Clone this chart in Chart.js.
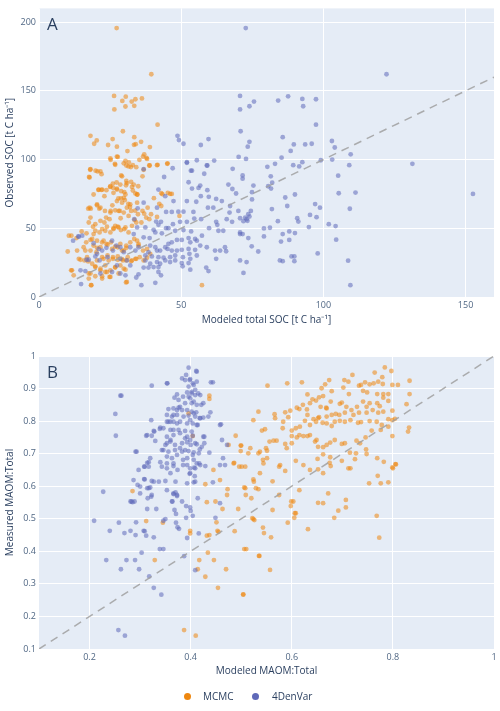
<!DOCTYPE html>
<html>
<head>
<meta charset="utf-8">
<script src="https://cdn.jsdelivr.net/npm/chart.js@4.4.1/dist/chart.umd.min.js"></script>
<style>
  body { margin: 0; background: #fff; font-family: "Open Sans", sans-serif; }
  #wrap { position: relative; width: 500px; height: 711px; }
  #socChart { position: absolute; left: 0; top: 0; }
  #maomChart { position: absolute; left: 0; top: 330px; }
  .dot { position: absolute; width: 7px; height: 7px; border-radius: 50%; top: 693px; }
  .lab { position: absolute; top: 689px; font-size: 10px; line-height: 14px; color: #2a3f5f; }
</style>
</head>
<body>
<div id="wrap">
  <canvas id="socChart" width="500" height="330"></canvas>
  <canvas id="maomChart" width="500" height="381"></canvas>
  <span class="dot" style="left:184px;background:#ee870f"></span><span class="lab" style="left:203px">MCMC</span>
  <span class="dot" style="left:252px;background:#5f69b9"></span><span class="lab" style="left:272px">4DenVar</span>
</div>
<script>
// series names
const seriesNames = ['MCMC', '4DenVar'];

// panel A: [modeled total SOC, observed SOC] in t C/ha
const mcmcSOC = [
  [18.1,117.3],[19.4,111.5],[20.3,113.9],[24.3,110.6],[25.9,114.9],[27.4,109.4],[29.5,120.6],[33.5,116.3],[33.4,110.7],[34.0,111.2],
  [35.9,112.9],[39.0,109.1],[41.7,125.4],[26.4,146.3],[30.5,145.8],[29.3,142.7],[32.6,142.2],[33.9,143.9],[36.2,144.5],[26.5,136.5],
  [30.4,138.6],[33.5,139.1],[27.3,195.7],[39.5,162.1],[25.2,99.8],[27.7,101.9],[26.7,96.9],[30.4,99.1],[31.6,98.0],[31.1,106.2],
  [37.0,103.8],[37.8,101.2],[35.3,99.8],[38.9,95.7],[41.5,95.9],[45.1,96.9],[18.0,92.6],[19.9,91.9],[30.7,95.7],[32.3,94.6],
  [17.6,87.3],[20.6,91.4],[22.0,89.4],[20.9,77.9],[22.0,77.9],[23.7,77.7],[25.0,80.1],[26.1,79.4],[27.4,78.9],[26.0,82.5],
  [27.3,83.3],[28.9,77.0],[30.0,76.3],[30.6,81.3],[32.7,80.1],[33.0,77.5],[33.9,75.3],[34.6,74.6],[34.9,80.6],[28.9,88.5],
  [30.7,84.4],[32.4,83.7],[34.2,94.5],[36.4,87.8],[33.0,96.0],[40.4,71.9],[42.3,67.8],[43.0,75.5],[43.4,74.8],[46.1,75.0],
  [17.3,64.3],[18.2,64.3],[20.4,66.7],[21.2,64.3],[23.0,73.4],[25.8,66.7],[27.9,71.7],[23.2,62.6],[23.6,57.8],[25.2,62.6],
  [28.0,62.6],[29.8,72.2],[29.2,68.6],[30.2,70.5],[31.4,67.8],[32.0,65.5],[32.4,62.6],[33.8,62.8],[34.5,68.6],[34.8,60.2],
  [36.4,62.6],[37.0,60.6],[38.2,65.0],[39.4,60.2],[28.7,57.3],[31.5,59.0],[33.6,56.1],[36.0,54.2],[37.7,57.8],[38.8,56.6],
  [24.8,56.6],[21.6,55.4],[19.8,53.0],[26.8,51.8],[28.0,50.6],[30.0,49.4],[26.2,49.4],[25.1,47.0],[23.3,48.2],[21.3,47.0],
  [19.2,45.8],[16.7,46.3],[15.0,47.7],[10.5,44.6],[11.4,44.6],[13.2,42.9],[16.6,39.8],[18.1,41.5],[19.2,37.4],[20.4,35.8],
  [22.2,39.8],[23.7,38.6],[25.3,39.8],[26.8,36.7],[28.6,38.6],[29.8,33.8],[30.7,35.8],[32.1,39.8],[34.5,41.0],[35.0,37.4],
  [36.6,33.8],[38.0,35.0],[39.1,31.4],[13.4,33.8],[14.6,27.1],[16.0,26.6],[17.3,25.9],[18.7,24.2],[20.4,26.6],[22.7,27.8],
  [24.5,26.6],[26.0,29.0],[27.7,27.1],[29.2,27.6],[30.7,26.6],[32.4,26.1],[33.9,27.8],[35.4,29.0],[36.8,26.6],[38.0,28.6],
  [11.6,19.4],[12.2,15.8],[17.5,17.1],[19.8,22.3],[21.6,19.4],[23.9,18.2],[22.2,15.1],[24.8,14.6],[26.8,21.8],[28.0,17.1],
  [29.8,20.6],[17.5,13.4],[18.4,8.6],[30.6,10.6],[57.3,8.6],[49.4,59.0],[45.3,75.8],[46.7,75.0],[45.2,97.3],[43.0,66.2],
  [41.5,58.3],[41.7,96.2],[38.8,95.7],[36.8,92.6],[36.6,102.2],[38.0,100.5],[10.1,33.1],[11.3,19.4],[14.0,27.8],[16.3,33.8],
  [17.5,54.2],[18.1,57.8],[19.0,51.1],[19.8,48.2],[22.2,49.4],[23.0,54.2],[23.9,51.1],[26.2,50.1],[27.7,51.1],[28.8,48.7],
  [30.4,50.6],[31.5,47.0],[32.7,51.8],[34.2,54.2],[25.1,61.4],[26.8,63.1],[28.4,62.6],[29.8,61.4],[30.9,65.0],[32.1,67.4],
  [27.4,69.8],[28.8,71.7],[30.4,74.6],[19.2,74.6],[20.4,67.4],[21.6,65.0],[17.8,65.0],[28.6,81.8],[27.4,78.2],[29.2,87.8],
  [30.9,82.9],[26.2,75.8],[34.5,74.6],[33.3,81.8],[21.0,78.2],[22.2,78.2],[25.1,80.6],[18.1,93.0],[21.6,91.4],[17.8,87.0],
  [25.1,100.9],[27.4,102.2],[26.8,96.2],[29.8,97.3],[31.5,95.0],[20.4,41.0],[18.7,42.2],[22.7,41.0],[24.1,38.1],[25.7,35.0],
  [27.7,36.2],[29.2,33.8],[30.7,37.4],[33.5,42.2],[35.0,38.6],[21.6,36.2],[20.2,32.6],[18.1,33.8],[15.7,36.2],[16.9,29.0],
  [22.2,29.0],[24.1,30.2],[26.0,27.8],[27.7,29.5],[29.5,26.6],[31.2,29.0],[32.7,26.6],[34.2,27.8],[19.8,21.8],[21.6,20.6],
  [23.3,23.0],[25.1,19.4],[26.8,21.4],[28.6,23.0],[30.4,19.9],[18.1,17.1],[19.8,15.1],[22.2,13.4],[25.1,14.6],[23.3,18.2],
  [18.3,8.6],[30.9,11.0]
];
const denvarSOC = [
  [48.7,117.3],[49.2,114.2],[50.8,111.5],[56.9,110.6],[59.6,114.9],[52.0,97.6],[55.5,99.5],[59.0,95.7],[61.6,99.3],[68.1,93.3],
  [70.2,101.9],[72.8,100.5],[72.7,195.7],[70.7,146.3],[70.7,136.5],[70.9,120.6],[73.4,109.4],[74.0,112.9],[74.0,138.8],[36.8,93.0],
  [53.8,91.9],[122.2,162.1],[75.6,142.2],[84.1,142.9],[87.6,146.0],[92.6,144.1],[92.9,138.8],[97.4,143.9],[97.4,125.4],[85.7,116.3],
  [89.6,111.0],[88.5,106.3],[93.6,111.0],[95.9,111.5],[85.3,101.4],[103.0,113.5],[104.0,108.8],[103.1,100.0],[99.1,99.5],[109.6,103.8],
  [109.1,95.9],[131.3,96.9],[83.0,96.9],[80.3,94.7],[89.4,95.9],[91.5,95.0],[92.6,98.1],[105.2,88.3],[71.6,88.5],[71.6,86.1],
  [75.4,81.1],[74.9,76.3],[74.9,71.0],[81.5,87.8],[82.0,83.2],[80.6,80.6],[81.6,78.9],[86.6,72.4],[90.0,74.6],[105.4,75.5],
  [111.3,76.0],[152.6,75.0],[81.9,64.0],[87.3,66.2],[97.1,67.6],[98.8,65.0],[97.6,58.1],[109.3,64.2],[90.8,57.3],[91.2,54.9],
  [95.3,59.7],[84.0,55.2],[71.9,55.2],[73.0,56.6],[74.0,58.5],[74.5,62.6],[70.7,57.3],[101.9,53.0],[104.3,51.6],[94.9,50.9],
  [79.1,49.9],[81.2,50.4],[85.7,45.8],[88.0,47.7],[90.0,46.5],[79.1,44.1],[73.6,42.9],[74.8,36.9],[77.1,33.1],[70.7,45.8],
  [85.1,40.3],[88.0,41.5],[98.0,31.7],[104.5,41.7],[84.7,26.6],[85.7,26.1],[88.8,29.5],[89.8,29.5],[89.8,26.1],[70.7,26.6],
  [71.9,17.5],[108.7,26.4],[109.5,8.6],[44.0,87.3],[52.0,98.1],[59.2,95.7],[53.4,91.9],[58.1,89.7],[52.6,83.5],[53.8,78.9],
  [56.1,79.4],[56.7,81.1],[59.2,77.7],[62.3,71.4],[59.7,72.9],[56.9,73.4],[55.3,69.3],[52.0,69.8],[50.8,62.1],[49.0,62.1],
  [46.7,61.9],[44.7,61.9],[54.3,61.9],[59.4,65.0],[61.3,65.0],[64.3,69.8],[66.6,81.8],[68.0,78.6],[69.3,75.3],[67.2,66.2],
  [67.0,61.4],[67.9,54.7],[66.0,56.6],[62.3,54.7],[59.8,50.1],[57.0,56.6],[54.6,57.1],[52.0,54.7],[49.6,54.7],[47.1,53.0],
  [44.7,50.1],[42.9,54.7],[41.2,54.9],[40.3,48.9],[42.0,52.5],[37.4,50.6],[36.8,43.4],[38.9,42.9],[40.9,47.0],[43.2,46.3],
  [45.5,50.1],[47.9,48.2],[50.8,48.7],[53.5,47.7],[63.1,48.2],[64.8,48.2],[62.7,52.5],[70.7,47.0],[71.6,45.8],[70.1,62.6],
  [73.3,55.4],[72.5,57.8],[73.6,60.2],[39.1,37.4],[40.9,36.2],[42.6,33.8],[44.4,36.2],[45.5,38.6],[46.7,39.8],[48.5,41.5],
  [50.2,41.5],[52.6,42.9],[54.9,42.2],[57.3,44.6],[55.5,41.0],[53.2,39.8],[56.7,37.4],[59.0,36.2],[54.9,34.3],[52.6,35.0],
  [50.2,34.3],[48.5,33.8],[46.7,33.8],[45.2,35.0],[41.5,33.8],[38.5,32.6],[37.4,30.2],[39.7,29.5],[42.0,29.0],[43.8,28.6],
  [46.1,29.0],[47.9,30.2],[52.9,31.4],[50.6,29.0],[53.2,27.8],[55.5,30.2],[61.9,33.8],[63.7,33.8],[65.8,33.3],[62.3,27.8],
  [65.4,36.2],[73.0,25.4],[37.4,26.6],[39.1,24.2],[41.5,25.4],[42.6,24.2],[44.4,26.6],[46.1,25.4],[47.9,26.6],[50.2,24.7],
  [50.5,22.3],[52.6,24.7],[53.2,19.9],[36.8,21.4],[38.5,21.4],[40.3,21.8],[42.0,21.8],[42.0,18.2],[42.9,15.8],[35.0,16.5],
  [34.2,14.2],[36.0,8.6],[40.9,10.3],[58.8,21.4],[59.6,18.9],[12.0,41.0],[14.0,43.9],[15.2,44.6],[16.7,27.1],[17.5,27.1],
  [14.6,19.4],[16.3,18.9],[14.8,9.4],[19.2,39.1],[21.0,35.0],[22.2,33.8],[23.7,35.8],[20.4,31.4],[19.8,29.5],[21.3,26.6],
  [24.1,29.0],[26.0,33.8],[27.2,37.4],[28.6,36.2],[29.8,32.6],[32.1,36.2],[33.9,33.8],[35.0,36.2],[28.6,27.8],[30.9,26.6],
  [27.4,23.0],[32.1,23.0],[28.6,17.1],[30.4,15.8],[25.7,18.2],[21.6,17.1],[33.3,45.8],[34.5,50.6],[33.5,56.6],[34.7,64.5],
  [25.7,41.0],[47.0,93.7],[42.0,78.2],[36.8,68.6],[41.5,65.0],[44.4,73.4],[47.3,69.8],[13.8,44.1]
];

// panel B: [modeled MAOM:total, measured MAOM:total]
const mcmcMAOM = [
  [0.285,0.585],[0.312,0.493],[0.345,0.488],[0.432,0.551],[0.449,0.553],[0.463,0.530],[0.451,0.489],[0.399,0.463],[0.399,0.455],[0.432,0.448],
  [0.437,0.450],[0.453,0.463],[0.455,0.460],[0.487,0.462],[0.494,0.530],[0.509,0.573],[0.520,0.563],[0.472,0.573],[0.522,0.502],[0.526,0.496],
  [0.506,0.407],[0.510,0.407],[0.434,0.396],[0.329,0.373],[0.417,0.373],[0.446,0.373],[0.414,0.345],[0.470,0.345],[0.429,0.322],[0.454,0.288],
  [0.504,0.267],[0.387,0.158],[0.410,0.141],[0.535,0.386],[0.437,0.878],[0.437,0.868],[0.404,0.754],[0.489,0.755],[0.475,0.727],[0.499,0.725],
  [0.499,0.708],[0.514,0.701],[0.485,0.670],[0.496,0.660],[0.508,0.660],[0.445,0.650],[0.458,0.619],[0.473,0.591],[0.429,0.606],[0.508,0.594],
  [0.396,0.824],[0.784,0.965],[0.764,0.949],[0.797,0.954],[0.779,0.935],[0.720,0.942],[0.704,0.926],[0.712,0.921],[0.674,0.926],[0.666,0.913],
  [0.659,0.901],[0.620,0.919],[0.591,0.916],[0.552,0.909],[0.679,0.892],[0.702,0.903],[0.733,0.909],[0.737,0.911],[0.745,0.919],[0.754,0.913],
  [0.762,0.916],[0.771,0.921],[0.780,0.914],[0.799,0.911],[0.810,0.911],[0.833,0.924],[0.713,0.883],[0.741,0.893],[0.749,0.888],[0.769,0.883],
  [0.781,0.883],[0.791,0.883],[0.791,0.862],[0.781,0.872],[0.833,0.883],[0.827,0.852],[0.631,0.882],[0.641,0.867],[0.648,0.863],[0.654,0.873],
  [0.662,0.877],[0.636,0.855],[0.622,0.850],[0.610,0.841],[0.615,0.837],[0.630,0.836],[0.657,0.844],[0.669,0.839],[0.677,0.860],[0.695,0.853],
  [0.699,0.857],[0.708,0.844],[0.718,0.834],[0.729,0.844],[0.741,0.860],[0.748,0.844],[0.754,0.855],[0.769,0.855],[0.774,0.846],[0.760,0.834],
  [0.771,0.826],[0.781,0.829],[0.799,0.832],[0.748,0.826],[0.733,0.826],[0.722,0.819],[0.705,0.826],[0.694,0.819],[0.687,0.822],[0.679,0.819],
  [0.668,0.841],[0.669,0.814],[0.654,0.812],[0.643,0.806],[0.631,0.819],[0.652,0.809],[0.626,0.801],[0.636,0.788],[0.648,0.798],[0.661,0.795],
  [0.669,0.793],[0.679,0.785],[0.685,0.798],[0.695,0.801],[0.705,0.798],[0.716,0.803],[0.731,0.795],[0.737,0.797],[0.754,0.800],[0.768,0.798],
  [0.778,0.788],[0.791,0.806],[0.799,0.803],[0.804,0.807],[0.832,0.780],[0.830,0.768],[0.799,0.754],[0.791,0.783],[0.776,0.773],[0.758,0.771],
  [0.746,0.750],[0.728,0.740],[0.735,0.732],[0.747,0.713],[0.748,0.699],[0.727,0.701],[0.725,0.683],[0.715,0.703],[0.705,0.732],[0.699,0.730],
  [0.685,0.742],[0.676,0.734],[0.669,0.727],[0.662,0.720],[0.652,0.721],[0.649,0.742],[0.646,0.737],[0.636,0.757],[0.631,0.754],[0.623,0.754],
  [0.610,0.750],[0.600,0.754],[0.587,0.730],[0.600,0.732],[0.590,0.717],[0.570,0.740],[0.564,0.740],[0.556,0.737],[0.549,0.717],[0.537,0.706],
  [0.534,0.701],[0.551,0.709],[0.543,0.681],[0.544,0.670],[0.551,0.686],[0.577,0.665],[0.575,0.660],[0.587,0.647],[0.537,0.640],[0.524,0.621],
  [0.525,0.614],[0.562,0.615],[0.506,0.596],[0.529,0.594],[0.534,0.591],[0.518,0.717],[0.500,0.725],[0.486,0.672],[0.501,0.660],[0.524,0.803],
  [0.534,0.829],[0.541,0.771],[0.547,0.775],[0.566,0.821],[0.567,0.809],[0.583,0.798],[0.582,0.778],[0.587,0.827],[0.597,0.832],[0.593,0.812],
  [0.600,0.771],[0.608,0.778],[0.616,0.783],[0.615,0.757],[0.608,0.678],[0.623,0.665],[0.636,0.650],[0.651,0.684],[0.662,0.698],[0.676,0.689],
  [0.675,0.672],[0.677,0.662],[0.662,0.640],[0.652,0.652],[0.699,0.678],[0.712,0.655],[0.716,0.655],[0.769,0.686],[0.782,0.675],[0.770,0.632],
  [0.753,0.609],[0.776,0.609],[0.791,0.612],[0.800,0.655],[0.806,0.667],[0.615,0.588],[0.599,0.553],[0.603,0.553],[0.598,0.539],[0.608,0.517],
  [0.605,0.503],[0.575,0.573],[0.562,0.527],[0.672,0.578],[0.662,0.548],[0.692,0.525],[0.684,0.503],[0.707,0.558],[0.707,0.535],[0.768,0.509],
  [0.773,0.442],[0.632,0.468],[0.592,0.488],[0.606,0.517],[0.559,0.443],[0.557,0.343],[0.536,0.386],[0.504,0.268],[0.543,0.473],[0.545,0.456],
  [0.524,0.499],[0.652,0.549],[0.799,0.658],[0.805,0.668]
];
const denvarMAOM = [
  [0.396,0.964],[0.412,0.952],[0.391,0.942],[0.353,0.916],[0.323,0.909],[0.261,0.878],[0.251,0.822],[0.252,0.755],[0.293,0.706],[0.322,0.803],
  [0.312,0.755],[0.323,0.755],[0.328,0.768],[0.339,0.776],[0.346,0.778],[0.353,0.798],[0.360,0.798],[0.366,0.819],[0.373,0.834],[0.379,0.844],
  [0.389,0.855],[0.396,0.875],[0.402,0.885],[0.409,0.896],[0.412,0.921],[0.404,0.916],[0.398,0.926],[0.383,0.931],[0.393,0.834],[0.406,0.824],
  [0.399,0.803],[0.412,0.788],[0.419,0.809],[0.425,0.855],[0.419,0.880],[0.406,0.860],[0.373,0.793],[0.366,0.773],[0.379,0.763],[0.389,0.747],
  [0.399,0.742],[0.409,0.732],[0.422,0.721],[0.427,0.732],[0.427,0.752],[0.360,0.742],[0.353,0.732],[0.369,0.727],[0.379,0.717],[0.389,0.711],
  [0.346,0.711],[0.353,0.691],[0.363,0.686],[0.373,0.696],[0.393,0.686],[0.406,0.681],[0.417,0.670],[0.320,0.686],[0.314,0.672],[0.309,0.660],
  [0.297,0.650],[0.317,0.660],[0.343,0.660],[0.353,0.670],[0.366,0.662],[0.385,0.665],[0.399,0.655],[0.409,0.655],[0.360,0.640],[0.398,0.638],
  [0.408,0.631],[0.287,0.619],[0.309,0.621],[0.327,0.614],[0.337,0.614],[0.353,0.588],[0.370,0.614],[0.393,0.609],[0.409,0.614],[0.295,0.604],
  [0.300,0.578],[0.317,0.594],[0.322,0.568],[0.366,0.578],[0.373,0.573],[0.414,0.563],[0.227,0.583],[0.440,0.919],[0.460,0.790],[0.472,0.727],
  [0.462,0.742],[0.458,0.665],[0.444,0.612],[0.437,0.703],[0.429,0.662],[0.416,0.701],[0.425,0.811],[0.411,0.954],[0.389,0.926],[0.399,0.929],
  [0.406,0.911],[0.396,0.906],[0.402,0.890],[0.393,0.888],[0.409,0.880],[0.415,0.885],[0.385,0.875],[0.399,0.870],[0.373,0.882],[0.376,0.865],
  [0.368,0.872],[0.402,0.855],[0.412,0.850],[0.421,0.850],[0.376,0.841],[0.366,0.839],[0.356,0.837],[0.383,0.834],[0.402,0.829],[0.411,0.827],
  [0.373,0.819],[0.386,0.814],[0.396,0.817],[0.409,0.814],[0.353,0.819],[0.363,0.814],[0.435,0.814],[0.439,0.827],[0.418,0.809],[0.366,0.798],
  [0.379,0.798],[0.393,0.793],[0.404,0.793],[0.414,0.788],[0.356,0.798],[0.340,0.780],[0.360,0.773],[0.376,0.773],[0.389,0.770],[0.402,0.768],
  [0.327,0.770],[0.314,0.757],[0.330,0.739],[0.353,0.752],[0.366,0.757],[0.393,0.752],[0.404,0.755],[0.425,0.752],[0.360,0.737],[0.383,0.732],
  [0.393,0.735],[0.400,0.727],[0.412,0.729],[0.350,0.727],[0.343,0.711],[0.356,0.706],[0.369,0.711],[0.383,0.706],[0.396,0.708],[0.406,0.704],
  [0.418,0.713],[0.404,0.696],[0.291,0.706],[0.317,0.674],[0.308,0.660],[0.340,0.674],[0.366,0.670],[0.385,0.681],[0.393,0.665],[0.353,0.655],
  [0.374,0.650],[0.399,0.640],[0.407,0.657],[0.412,0.670],[0.419,0.665],[0.468,0.665],[0.464,0.686],[0.458,0.788],[0.444,0.919],[0.354,0.916],
  [0.263,0.878],[0.308,0.622],[0.323,0.616],[0.350,0.616],[0.406,0.612],[0.300,0.599],[0.314,0.594],[0.320,0.596],[0.370,0.581],[0.283,0.553],
  [0.289,0.553],[0.363,0.553],[0.383,0.553],[0.315,0.563],[0.323,0.573],[0.281,0.553],[0.285,0.551],[0.314,0.530],[0.332,0.530],[0.366,0.576],
  [0.373,0.570],[0.364,0.553],[0.391,0.539],[0.399,0.535],[0.368,0.527],[0.371,0.515],[0.400,0.524],[0.404,0.509],[0.391,0.503],[0.458,0.548],
  [0.449,0.503],[0.209,0.494],[0.258,0.488],[0.292,0.489],[0.350,0.499],[0.346,0.494],[0.371,0.488],[0.374,0.474],[0.377,0.469],[0.240,0.463],
  [0.269,0.456],[0.281,0.463],[0.307,0.463],[0.309,0.462],[0.291,0.450],[0.312,0.448],[0.327,0.443],[0.393,0.441],[0.416,0.455],[0.339,0.407],
  [0.346,0.407],[0.303,0.396],[0.387,0.385],[0.233,0.373],[0.273,0.373],[0.290,0.373],[0.262,0.345],[0.298,0.345],[0.409,0.342],[0.318,0.323],
  [0.327,0.288],[0.342,0.267],[0.257,0.158],[0.270,0.141]
];

// 1:1 reference line ends
const oneToOneA = [0, 160];
const oneToOneB = [0.1, 1];

// ticks
const xTicksA = [0, 50, 100, 150];
const xLabelsA = ['0', '50', '100', '150'];
const yTicksA = [0, 50, 100, 150, 200];
const yLabelsA = ['0', '50', '100', '150', '200'];
const xTicksB = [0.2, 0.4, 0.6, 0.8, 1];
const xLabelsB = ['0.2', '0.4', '0.6', '0.8', '1'];
const yTicksB = [0.1, 0.2, 0.3, 0.4, 0.5, 0.6, 0.7, 0.8, 0.9, 1];
const yLabelsB = ['0.1', '0.2', '0.3', '0.4', '0.5', '0.6', '0.7', '0.8', '0.9', '1'];

const ORANGE = 'rgba(238,135,15,0.55)';
const BLUE = 'rgba(95,105,185,0.55)';
const TICK = '#506784';
const TEXT = '#2a3f5f';

const plotBg = {
  id: 'plotBg',
  beforeDraw(chart) {
    const { ctx, chartArea: a } = chart;
    ctx.save();
    ctx.fillStyle = '#E5ECF6';
    ctx.fillRect(a.left, a.top, a.right - a.left, a.bottom - a.top);
    ctx.restore();
  }
};

const panelLetter = {
  id: 'panelLetter',
  afterDraw(chart, args, opts) {
    const { ctx, chartArea: a } = chart;
    ctx.save();
    ctx.font = '17px "Open Sans"';
    ctx.fillStyle = TEXT;
    ctx.textBaseline = 'alphabetic';
    ctx.fillText(opts.text, a.left + 8, a.top + 22);
    ctx.restore();
  }
};

const pts = arr => arr.map(p => ({ x: p[0], y: p[1] }));

function axis(min, max, ticks, labels, title, fit) {
  return {
    type: 'linear',
    min: min,
    max: max,
    afterBuildTicks: s => { s.ticks = ticks.map(v => ({ value: v })); },
    afterFit: fit,
    ticks: {
      callback: (v, i) => labels[i],
      autoSkip: false,
      maxRotation: 0,
      padding: 3,
      color: TICK,
      font: { family: '"Open Sans"', size: 9 }
    },
    grid: { color: '#ffffff', lineWidth: 1, drawTicks: false },
    border: { display: false },
    title: {
      display: true,
      text: title,
      color: TEXT,
      padding: { top: 4, bottom: 4 },
      font: { family: '"Open Sans"', size: 10 }
    }
  };
}

function makeChart(id, mcmc, denvar, line, xs, ys, letter, pad, xh) {
  return new Chart(document.getElementById(id), {
    type: 'scatter',
    plugins: [plotBg, panelLetter],
    data: {
      datasets: [
        { label: 'identity', type: 'line', data: [{ x: line[0], y: line[0] }, { x: line[1], y: line[1] }],
          borderColor: 'rgba(160,160,160,0.85)', borderWidth: 1.5, borderDash: [8, 6], pointRadius: 0, fill: false, order: 0 },
        { label: seriesNames[1], data: pts(denvar), backgroundColor: BLUE, borderWidth: 0, pointRadius: 2.4, order: 1 },
        { label: seriesNames[0], data: pts(mcmc), backgroundColor: ORANGE, borderWidth: 0, pointRadius: 2.4, order: 2 }
      ]
    },
    options: {
      responsive: false,
      devicePixelRatio: 1,
      animation: false,
      layout: { padding: pad },
      plugins: { legend: { display: false }, tooltip: { enabled: false }, panelLetter: { text: letter } },
      scales: {
        x: axis(xs[0], xs[1], xs[2], xs[3], xs[4], s => { s.height = xh; }),
        y: axis(ys[0], ys[1], ys[2], ys[3], ys[4], s => { s.width = 39; })
      }
    }
  });
}

makeChart('socChart', mcmcSOC, denvarSOC, oneToOneA,
  [0, 160, xTicksA, xLabelsA, 'Modeled total SOC [t C ha\u207B\u00B9]'],
  [0, 210, yTicksA, yLabelsA, 'Observed SOC [t C ha\u207B\u00B9]'],
  'A', { top: 5, right: 6, bottom: 0, left: 0 }, 33);

makeChart('maomChart', mcmcMAOM, denvarMAOM, oneToOneB,
  [0.1, 1, xTicksB, xLabelsB, 'Modeled MAOM:Total'],
  [0.1, 1, yTicksB, yLabelsB, 'Measured MAOM:Total'],
  'B', { top: 26, right: 6, bottom: 30, left: 0 }, 32);
</script>
</body>
</html>
